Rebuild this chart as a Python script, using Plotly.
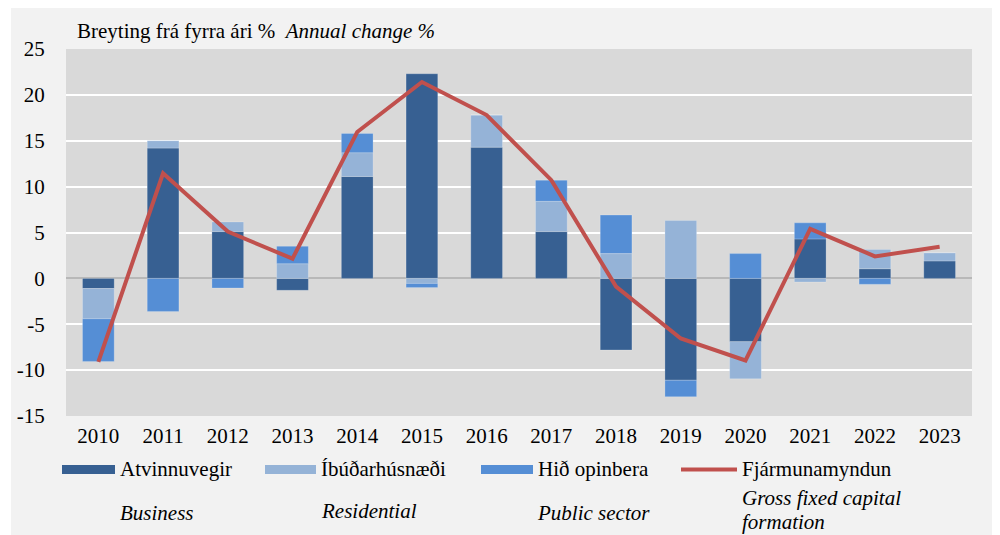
import plotly.graph_objects as go

years = ["2010", "2011", "2012", "2013", "2014", "2015", "2016",
         "2017", "2018", "2019", "2020", "2021", "2022", "2023"]
business = [-1.1, 14.2, 5.1, -1.3, 11.1, 22.3, 14.3, 5.1, -7.8, -11.1, -6.9, 4.3, 1.05, 1.9]
residential = [-3.3, 0.8, 1.05, 1.6, 2.6, -0.55, 3.5, 3.3, 2.7, 6.3, -4.05, -0.4, 2.1, 0.9]
public = [-4.65, -3.6, -1.05, 1.9, 2.1, -0.45, 0.0, 2.3, 4.2, -1.8, 2.7, 1.75, -0.65, 0.0]
gfcf = [-9.1, 11.45, 5.1, 2.15, 15.95, 21.4, 17.8, 10.7, -0.9, -6.55, -8.95, 5.4, 2.4, 3.45]

y_ticks = [25, 20, 15, 10, 5, 0, -5, -10, -15]
y_ticktext = ["25", "20", "15", "10", "5", "0", "-5", "-10", "-15"]

C_BUS = "#376092"
C_RES = "#95b3d7"
C_PUB = "#558ed5"
C_LINE = "#c0504d"
FONT = "Liberation Serif, Times New Roman, serif"
FS = 21

fig = go.Figure()
for name, vals, col in [("Atvinnuvegir", business, C_BUS),
                        ("Íbúðarhúsnæði", residential, C_RES),
                        ("Hið opinbera", public, C_PUB)]:
    fig.add_trace(go.Bar(x=years, y=vals, name=name, marker_color=col,
                         marker_line_width=0.6, marker_line_color="rgba(255,255,255,0.35)",
                         showlegend=False))
fig.add_trace(go.Scatter(x=years, y=gfcf, name="Fjármunamyndun", mode="lines",
                         line=dict(color=C_LINE, width=4), showlegend=False))

# The page body adds an 8px offset; work in screen pixels and convert.
OFF = 8
W, H = 1000 - OFF, 535 - OFF
L, R, T, B = 66 - OFF, 972 - OFF, 49 - OFF, 416.5 - OFF
PW, PH = R - L, B - T


def px(x):  # screen x -> paper
    return (x - OFF - L) / PW


def py(y):  # screen y -> paper
    return (B - (y - OFF)) / PH


shapes = [
    dict(type="rect", xref="paper", yref="paper", x0=px(0), x1=px(11), y0=py(600), y1=py(0),
         fillcolor="white", line_width=0, layer="below"),
    dict(type="rect", xref="paper", yref="paper", x0=px(995), x1=px(1010), y0=py(600), y1=py(0),
         fillcolor="white", line_width=0, layer="below"),
]
annotations = [
    dict(xref="paper", yref="paper", x=px(75), y=py(31), xanchor="left", yanchor="middle",
         text="Breyting frá fyrra ári %  <i>Annual change %</i>", showarrow=False,
         font=dict(family=FONT, size=FS, color="black")),
]

leg_y = 470
swatches = [(62, 115, C_BUS, "Atvinnuvegir", 118),
            (265, 316, C_RES, "Íbúðarhúsnæði", 319),
            (481, 533, C_PUB, "Hið opinbera", 536)]
for x0, x1, col, label, tx in swatches:
    shapes.append(dict(type="rect", xref="paper", yref="paper", x0=px(x0), x1=px(x1),
                       y0=py(leg_y + 4.5), y1=py(leg_y - 4.5), fillcolor=col, line_width=0))
    annotations.append(dict(xref="paper", yref="paper", x=px(tx), y=py(leg_y), xanchor="left",
                            yanchor="middle", text=label, showarrow=False,
                            font=dict(family=FONT, size=FS, color="black")))
shapes.append(dict(type="line", xref="paper", yref="paper", x0=px(681), x1=px(737),
                   y0=py(leg_y), y1=py(leg_y), line=dict(color=C_LINE, width=4)))
annotations.append(dict(xref="paper", yref="paper", x=px(740), y=py(leg_y), xanchor="left",
                        yanchor="middle", text="Fjármunamyndun", showarrow=False,
                        font=dict(family=FONT, size=FS, color="black")))

for text, x, y in [("Business", 118, 514), ("Residential", 319, 512),
                   ("Public sector", 535, 514), ("Gross fixed capital", 740, 499),
                   ("formation", 740, 523)]:
    annotations.append(dict(xref="paper", yref="paper", x=px(x), y=py(y), xanchor="left",
                            yanchor="middle", text=f"<i>{text}</i>", showarrow=False,
                            font=dict(family=FONT, size=FS, color="black")))

fig.update_layout(
    width=W, height=H,
    margin=dict(l=L, r=W - R, t=T, b=H - B, pad=0, autoexpand=False),
    paper_bgcolor="#f2f2f2",
    plot_bgcolor="#d9d9d9",
    barmode="relative",
    bargap=0.51,
    font=dict(family=FONT, size=FS, color="black"),
    shapes=shapes,
    annotations=annotations,
    xaxis=dict(type="category", showgrid=False, zeroline=False, showline=False,
               automargin=False,
               ticks="outside", ticklen=1, tickcolor="rgba(0,0,0,0)",
               tickfont=dict(family=FONT, size=FS)),
    yaxis=dict(range=[-15, 25], tickvals=y_ticks, ticktext=y_ticktext, showgrid=True,
               gridcolor="white", gridwidth=2, zeroline=True, zerolinecolor="#b8b8b8",
               zerolinewidth=1.5, showline=False, automargin=False,
               ticks="outside", ticklen=16, tickcolor="rgba(0,0,0,0)",
               tickfont=dict(family=FONT, size=FS)),
)

fig.write_html("out.html")
